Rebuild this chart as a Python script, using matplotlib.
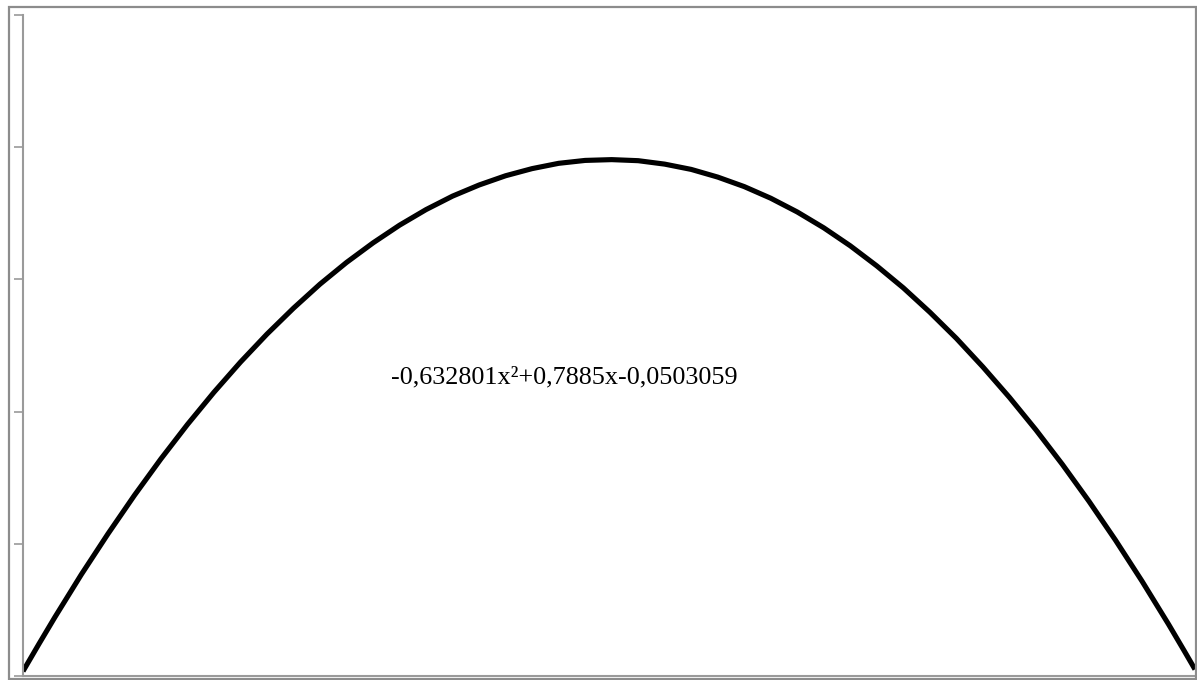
import matplotlib
matplotlib.use("Agg")
from matplotlib import pyplot as plt
from matplotlib.patches import Rectangle

# values
x_vals = [0.07, 0.085, 0.10, 0.125, 0.15, 0.175, 0.20, 0.225, 0.25, 0.275, 0.30,
          0.325, 0.35, 0.375, 0.40, 0.425, 0.45, 0.475, 0.50, 0.525, 0.55, 0.575,
          0.60, 0.625, 0.65, 0.675, 0.70, 0.725, 0.75, 0.775, 0.80, 0.825, 0.85,
          0.875, 0.90, 0.925, 0.95, 0.975, 1.00, 1.025, 1.05, 1.075, 1.10, 1.125,
          1.15, 1.165, 1.175]
y_vals = [0.0018, 0.0121, 0.0222, 0.0384, 0.0537, 0.0683, 0.0821, 0.0951, 0.1073,
          0.1187, 0.1293, 0.1391, 0.1482, 0.1564, 0.1638, 0.1705, 0.1764, 0.1815,
          0.1857, 0.1892, 0.1919, 0.1939, 0.1950, 0.1953, 0.1949, 0.1936, 0.1916,
          0.1887, 0.1851, 0.1807, 0.1755, 0.1695, 0.1627, 0.1551, 0.1468, 0.1376,
          0.1277, 0.1169, 0.1054, 0.0931, 0.0800, 0.0661, 0.0514, 0.0359, 0.0196,
          0.0094, 0.0025]
y_ticks = [0, 0.05, 0.10, 0.15, 0.20, 0.25]
label = "-0,632801x²+0,7885x-0,0503059"

axis_color = "#9a9a9a"
frame_color = "#8c8c8c"

fig = plt.figure(figsize=(11.97, 6.8), dpi=100)
ax = fig.add_axes([23 / 1197, 4 / 680, 1172 / 1197, 661 / 680])

# outer border around the whole chart
fig.add_artist(Rectangle((9 / 1197, 1.5 / 680), 1186.5 / 1197, 671.5 / 680,
                         transform=fig.transFigure, fill=False,
                         edgecolor=frame_color, lw=1.6))

ax.plot(x_vals, y_vals, color="black", lw=3.7, solid_capstyle="butt",
        solid_joinstyle="round")

ax.set_xlim(0.07, 1.175)
ax.set_ylim(0, 0.25)
ax.set_yticks(y_ticks)
ax.set_xticks([])
ax.tick_params(axis="y", direction="out", length=6.5, width=1.2, color=axis_color,
               labelleft=False)
ax.spines["top"].set_visible(False)
ax.spines["right"].set_visible(False)
ax.spines["left"].set_color(axis_color)
ax.spines["bottom"].set_color(axis_color)
ax.spines["left"].set_linewidth(1.5)
ax.spines["bottom"].set_linewidth(1.5)

ax.text(0.58, 0.1128, label, fontsize=18.8, family="Liberation Serif",
        ha="center", va="center")

fig.savefig("out.png", dpi=100)
